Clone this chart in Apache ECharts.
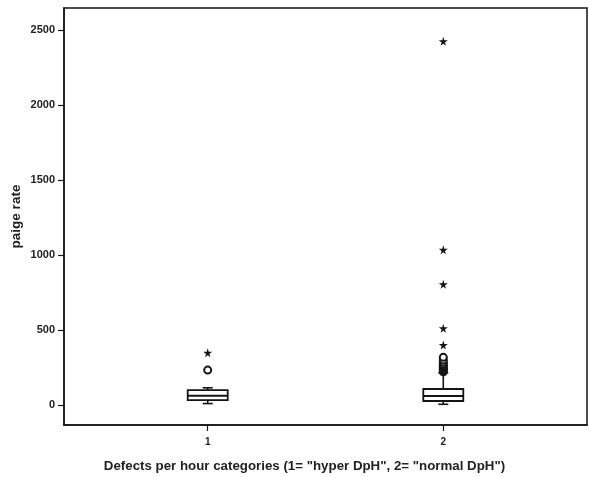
<!DOCTYPE html>
<html>
<head>
<meta charset="utf-8">
<script src="https://cdn.jsdelivr.net/npm/echarts@6/dist/echarts.min.js"></script>
<style>
html,body{margin:0;padding:0;background:#fff;}
#chart{width:589px;height:477px;}
</style>
</head>
<body>
<div id="chart"></div>
<script>
// ---- data ----
var categories = [1, 2];
var categoryLabels = ['1', '2'];
var boxLow    = [10, 5];
var boxQ1     = [33, 27];
var boxMedian = [62, 60];
var boxQ3     = [100, 107];
var boxHigh   = [115, 215];
var outliers1 = [233];
var outliers2 = [222, 230, 238, 246, 254, 262, 272, 285, 300, 318];
var extremes1 = [348];
var extremes2 = [400, 512, 805, 1035, 2425];
var yTicks = [0, 500, 1000, 1500, 2000, 2500];

var boxData = categories.map(function (c, i) {
  return [c, boxLow[i], boxQ1[i], boxMedian[i], boxQ3[i], boxHigh[i]];
});
var outlierData = outliers1.map(function (v) { return [categories[0], v]; })
  .concat(outliers2.map(function (v) { return [categories[1], v]; }));
var extremeData = extremes1.map(function (v) { return [categories[0], v]; })
  .concat(extremes2.map(function (v) { return [categories[1], v]; }));

var STAR = 'path://M50,0 L61,35 L98,35 L68,57 L79,91 L50,70 L21,91 L32,57 L2,35 L39,35 Z';
var FONT = 'Liberation Sans';
var INK = '#151515';

var chart = echarts.init(document.getElementById('chart'), null, {renderer: 'canvas'});

function renderBox(params, api) {
  var x = api.value(0);
  var pLow = api.coord([x, api.value(1)]);
  var pQ1 = api.coord([x, api.value(2)]);
  var pMed = api.coord([x, api.value(3)]);
  var pQ3 = api.coord([x, api.value(4)]);
  var pHigh = api.coord([x, api.value(5)]);
  var hw = 20, cw = 5;
  var st = {stroke: INK, lineWidth: 1.6, fill: null};
  return {
    type: 'group',
    children: [
      {type: 'line', shape: {x1: pQ3[0], y1: pQ3[1], x2: pHigh[0], y2: pHigh[1]}, style: st},
      {type: 'line', shape: {x1: pQ1[0], y1: pQ1[1], x2: pLow[0], y2: pLow[1]}, style: st},
      {type: 'line', shape: {x1: pHigh[0] - cw, y1: pHigh[1], x2: pHigh[0] + cw, y2: pHigh[1]}, style: st},
      {type: 'line', shape: {x1: pLow[0] - cw, y1: pLow[1], x2: pLow[0] + cw, y2: pLow[1]}, style: st},
      {type: 'rect', shape: {x: pQ3[0] - hw, y: pQ3[1], width: hw * 2, height: pQ1[1] - pQ3[1]},
        style: {stroke: INK, lineWidth: 1.8, fill: '#fff'}},
      {type: 'line', shape: {x1: pMed[0] - hw, y1: pMed[1], x2: pMed[0] + hw, y2: pMed[1]},
        style: {stroke: INK, lineWidth: 2, fill: null}}
    ]
  };
}

var option = {
  animation: false,
  backgroundColor: '#fff',
  grid: {
    left: 64, top: 8, right: 2, bottom: 52,
    containLabel: false, outerBoundsMode: 'none',
    show: true, borderColor: INK, borderWidth: 1.5, backgroundColor: 'transparent'
  },
  xAxis: {
    type: 'value',
    min: 0.39, max: 2.61,
    splitLine: {show: false},
    axisLine: {show: true, onZero: false, lineStyle: {color: INK, width: 1.5}},
    axisTick: {show: true, customValues: categories, length: 6, lineStyle: {color: INK, width: 1.2}},
    axisLabel: {
      customValues: categories, margin: 12,
      formatter: function (v) { return categoryLabels[categories.indexOf(v)]; },
      fontFamily: FONT, fontWeight: 'bold', fontSize: 10, color: '#222'
    },
    name: 'Defects per hour categories (1= "hyper DpH", 2= "normal DpH")',
    nameLocation: 'middle',
    nameGap: 35,
    nameMoveOverlap: false,
    nameTextStyle: {fontFamily: FONT, fontWeight: 'bold', fontSize: 13.3, color: '#222', padding: [0, 42, 0, 0]}
  },
  yAxis: {
    type: 'value',
    min: -133, max: 2647,
    splitLine: {show: false},
    axisLine: {show: true, onZero: false, lineStyle: {color: INK, width: 1.5}},
    axisTick: {show: true, customValues: yTicks, length: 6, lineStyle: {color: INK, width: 1.2}},
    axisLabel: {
      customValues: yTicks, margin: 9,
      formatter: function (v) { return String(v); },
      fontFamily: FONT, fontWeight: 'bold', fontSize: 11, color: '#222'
    },
    name: 'paige rate',
    nameLocation: 'middle',
    nameGap: 41,
    nameMoveOverlap: false,
    nameTextStyle: {fontFamily: FONT, fontWeight: 'bold', fontSize: 13.5, color: '#222'}
  },
  series: [
    {
      type: 'custom',
      renderItem: renderBox,
      data: boxData,
      encode: {x: 0, y: [1, 2, 3, 4, 5]},
      z: 2
    },
    {
      type: 'scatter',
      data: outlierData,
      symbol: 'circle',
      symbolSize: 7,
      itemStyle: {color: '#fff', borderColor: INK, borderWidth: 2, opacity: 1},
      z: 3
    },
    {
      type: 'scatter',
      data: extremeData,
      symbol: STAR,
      symbolSize: 9,
      itemStyle: {color: INK, opacity: 1},
      z: 3
    }
  ]
};
chart.setOption(option);
</script>
</body>
</html>
